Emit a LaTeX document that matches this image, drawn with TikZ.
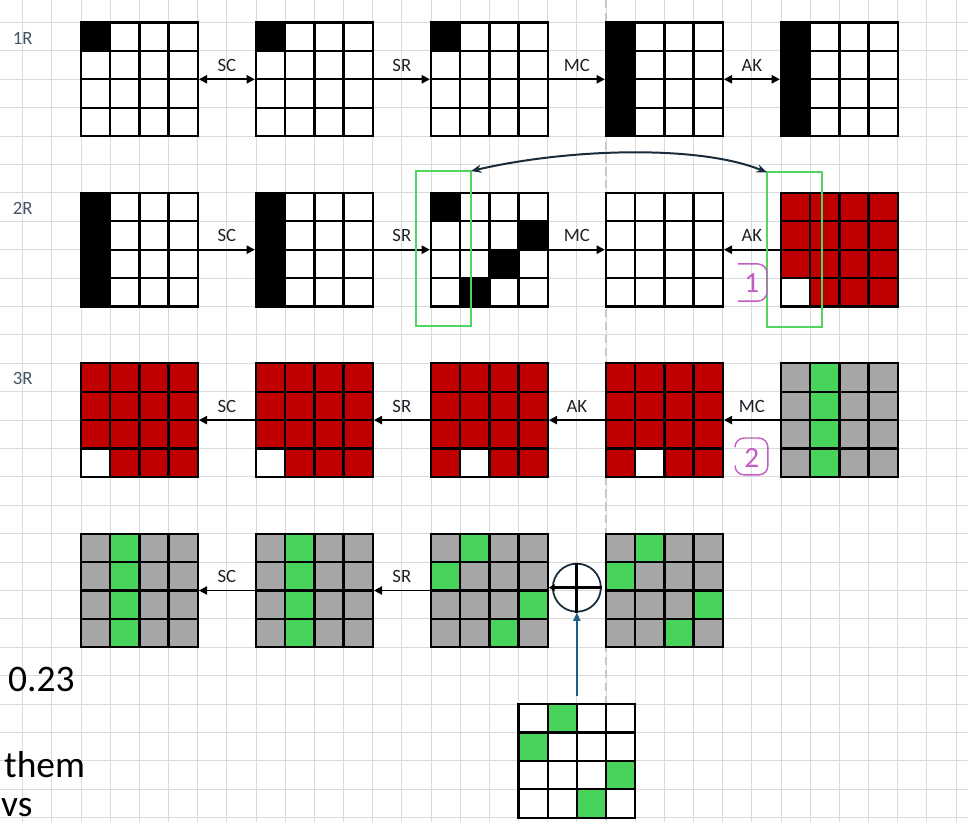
\documentclass[tikz,border=0pt]{standalone}
\usepackage{fontspec}
\setmainfont{Carlito}
\usepackage{tikz}
\usetikzlibrary{matrix,arrows.meta}

\definecolor{cellred}{RGB}{192,0,0}
\definecolor{cellgray}{RGB}{166,166,166}
\definecolor{cellgreen}{RGB}{72,212,90}
\definecolor{sheetline}{RGB}{218,218,218}
\definecolor{breakline}{RGB}{200,200,200}
\definecolor{rowblue}{RGB}{68,84,106}
\definecolor{labelink}{RGB}{30,34,40}
\definecolor{navy}{RGB}{24,44,60}
\definecolor{keyblue}{RGB}{31,94,130}
\definecolor{pickgreen}{RGB}{80,214,96}
\definecolor{badgepurple}{RGB}{196,92,196}

\tikzset{
  sq/.style={draw, line width=2pt, minimum width=0.875cm, minimum height=0.852cm,
    inner sep=0pt, outer sep=0pt},
  box4/.style={matrix of nodes, nodes in empty cells, inner sep=0pt, outer sep=0pt,
    column sep=-2pt, row sep=-2pt, nodes={sq, fill=#1}},
  box4/.default=white,
  blk/.style={fill=black},
  wht/.style={fill=white},
  grn/.style={fill=cellgreen},
  flow/.style={line width=1.6pt, -{Triangle[length=7pt,width=7pt]}},
  both/.style={line width=1.6pt, {Triangle[length=7pt,width=7pt]}-{Triangle[length=7pt,width=7pt]}},
  lbl/.style={above=6pt, inner sep=0pt, font=\fontsize{16}{18}\selectfont, text=labelink},
  rowtag/.style={inner sep=0pt, font=\fontsize{16}{18}\selectfont, text=rowblue},
  sheet/.style={draw=sheetline, line width=0.8pt},
  pagebreak/.style={draw=breakline, line width=1.6pt, dash pattern=on 7pt off 4pt},
  pick/.style={draw=pickgreen, line width=1.7pt, minimum width=1.66cm, minimum height=4.65cm,
    inner sep=0pt, outer sep=0pt},
  badge/.style={draw=badgepurple, line width=1.2pt, rounded corners=0.28cm},
  badgenum/.style={inner sep=0pt, font=\fontsize{25}{28}\selectfont, text=badgepurple},
  big/.style={inner sep=0pt, anchor=base west, font=\fontsize{32}{36}\selectfont, text=black},
}

\begin{document}
\begin{tikzpicture}[x=0.875cm, y=-0.852cm]
\useasboundingbox (-0.778,-0.792) rectangle (32.41,28.15);
\clip (-0.778,-0.792) rectangle (32.41,28.15);
\fill[white] (-0.778,-0.792) rectangle (32.41,28.15);
% sheet
\foreach \i in {0,...,32}
  \draw[sheet] (\i,-0.8) -- (\i,28.2);
\foreach \j in {0,...,28}
  \draw[sheet] (-0.8,\j) -- (32.5,\j);
\draw[pagebreak] (20,-0.8) -- (20,28.2);

\node (r1) [rowtag] at (0,0.55) {1R};
\node (r2) [rowtag] at (0,6.55) {2R};
\node (r3) [rowtag] at (0,12.55) {3R};

% round 1
\matrix (a1) [box4] at (4,2) {|[blk]|&&&\\&&&\\&&&\\&&&\\};
\matrix (a2) [box4] at (10,2) {|[blk]|&&&\\&&&\\&&&\\&&&\\};
\matrix (a3) [box4] at (16,2) {|[blk]|&&&\\&&&\\&&&\\&&&\\};
\matrix (a4) [box4] at (22,2) {|[blk]|&&&\\|[blk]|&&&\\|[blk]|&&&\\|[blk]|&&&\\};
\matrix (a5) [box4] at (28,2) {|[blk]|&&&\\|[blk]|&&&\\|[blk]|&&&\\|[blk]|&&&\\};
\draw[both] (a1) -- (a2) node[lbl, midway] {SC};
\draw[flow] (a2) -- (a3) node[lbl, midway] {SR};
\draw[flow] (a3) -- (a4) node[lbl, midway] {MC};
\draw[both] (a4) -- (a5) node[lbl, midway] {AK};

% round 2
\matrix (b1) [box4] at (4,8) {|[blk]|&&&\\|[blk]|&&&\\|[blk]|&&&\\|[blk]|&&&\\};
\matrix (b2) [box4] at (10,8) {|[blk]|&&&\\|[blk]|&&&\\|[blk]|&&&\\|[blk]|&&&\\};
\matrix (b3) [box4] at (16,8) {|[blk]|&&&\\&&&|[blk]|\\&&|[blk]|&\\&|[blk]|&&\\};
\matrix (b4) [box4] at (22,8) {&&&\\&&&\\&&&\\&&&\\};
\matrix (b5) [box4=cellred] at (28,8) {&&&\\&&&\\&&&\\|[wht]|&&&\\};
\draw[flow] (b1) -- (b2) node[lbl, midway] {SC};
\draw[flow] (b2) -- (b3) node[lbl, midway] {SR};
\draw[flow] (b3) -- (b4) node[lbl, midway] {MC};
\draw[flow] (b5) -- (b4) node[lbl, midway] {AK};

\node (g1) [pick] at (14.42,7.96) {};
\node (g2) [pick] at (26.47,8.01) {};
\draw[navy, line width=1.7pt, {Stealth[length=9pt,width=7pt]}-{Stealth[length=9pt,width=7pt]}]
  (g1.north east) .. controls (18.76,4.42) and (23.22,4.31) .. (g2.north west);

\draw[badge] (24.52,8.50) -- (25.52,8.50) -- (25.52,9.81) -- (24.52,9.81);
\node (n1) [badgenum] at (25.0,9.17) {1};

% round 3
\matrix (c1) [box4=cellred] at (4,14) {&&&\\&&&\\&&&\\|[wht]|&&&\\};
\matrix (c2) [box4=cellred] at (10,14) {&&&\\&&&\\&&&\\|[wht]|&&&\\};
\matrix (c3) [box4=cellred] at (16,14) {&&&\\&&&\\&&&\\&|[wht]|&&\\};
\matrix (c4) [box4=cellred] at (22,14) {&&&\\&&&\\&&&\\&|[wht]|&&\\};
\matrix (c5) [box4=cellgray] at (28,14) {&|[grn]|&&\\&|[grn]|&&\\&|[grn]|&&\\&|[grn]|&&\\};
\draw[flow] (c2) -- (c1) node[lbl, midway] {SC};
\draw[flow] (c3) -- (c2) node[lbl, midway] {SR};
\draw[flow] (c4) -- (c3) node[lbl, midway] {AK};
\draw[flow] (c5) -- (c4) node[lbl, midway] {MC};

\draw[badge] (24.42,14.91) -- (24.42,14.63) -- (25.55,14.63) -- (25.55,15.93) -- (24.42,15.93) -- (24.42,15.65);
\node (n2) [badgenum] at (25.0,15.33) {2};

% last row
\matrix (d1) [box4=cellgray] at (4,20) {&|[grn]|&&\\&|[grn]|&&\\&|[grn]|&&\\&|[grn]|&&\\};
\matrix (d2) [box4=cellgray] at (10,20) {&|[grn]|&&\\&|[grn]|&&\\&|[grn]|&&\\&|[grn]|&&\\};
\matrix (d3) [box4=cellgray] at (16,20) {&|[grn]|&&\\|[grn]|&&&\\&&&|[grn]|\\&&|[grn]|&\\};
\matrix (d4) [box4=cellgray] at (22,20) {&|[grn]|&&\\|[grn]|&&&\\&&&|[grn]|\\&&|[grn]|&\\};
\matrix (key) [box4] at (19,26) {&|[grn]|&&\\|[grn]|&&&\\&&&|[grn]|\\&&|[grn]|&\\};
\draw[flow, line width=1.4pt] (d2) -- (d1) node[lbl, midway] {SC};
\draw[flow, line width=1.4pt] (d3) -- (d2) node[lbl, midway] {SR};

\node (xor) [draw=navy, line width=1.5pt, circle, minimum size=1.44cm, inner sep=0pt] at (19,19.9) {};
\draw[line width=2.4pt] (xor.north) -- (xor.south);
\draw[line width=2.4pt, -{Triangle[length=5pt,width=6pt]}] (xor.east) -- (xor.east -| d3.east);
\draw[keyblue, line width=1.3pt, -{Triangle[length=7pt,width=6pt]}, shorten <=0.2cm] (key.north) -- (xor.south);

\node (t1) [big] at (-0.504,23.57) {0.23};
\node (t2) [big] at (-0.641,26.57) {them};
\node (t3) [big] at (-0.75,27.97) {vs};
\end{tikzpicture}
\end{document}
